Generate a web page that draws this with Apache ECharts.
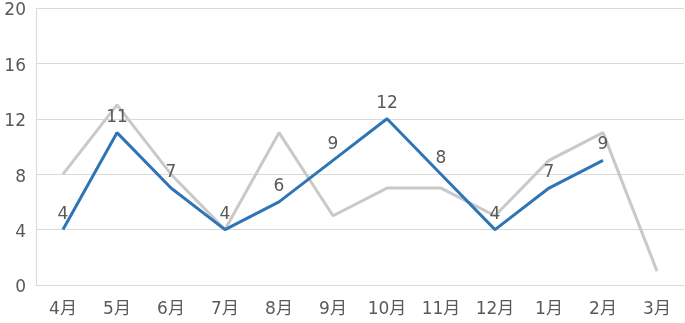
<!DOCTYPE html>
<html>
<head>
<meta charset="utf-8">
<script src="https://cdn.jsdelivr.net/npm/echarts@6/dist/echarts.min.js"></script>
<style>
html,body{margin:0;padding:0;background:#fff;}
#chart{width:685px;height:323px;}
</style>
</head>
<body>
<div id="chart"></div>
<script>
var categories = ['4月','5月','6月','7月','8月','9月','10月','11月','12月','1月','2月','3月'];
var blueValues = [4, 11, 7, 4, 6, 9, 12, 8, 4, 7, 9, null];
var grayValues = [8, 13, 8, 4, 11, 5, 7, 7, 5, 9, 11, 1];
var yTicks = {min: 0, max: 20, interval: 4};

var FONT = '"DejaVu Sans", "Noto Sans CJK JP", sans-serif';
var chart = echarts.init(document.getElementById('chart'), null, {renderer: 'canvas'});
chart.setOption({
  animation: false,
  backgroundColor: '#ffffff',
  grid: {left: 36, right: 1, top: 8, bottom: 38, containLabel: false},
  xAxis: {
    type: 'category',
    data: categories,
    boundaryGap: true,
    axisLine: {show: true, lineStyle: {color: '#d9d9d9', width: 1}},
    axisTick: {show: false},
    axisLabel: {color: '#595959', fontSize: 17, fontFamily: FONT, margin: 16}
  },
  yAxis: {
    type: 'value',
    min: yTicks.min, max: yTicks.max, interval: yTicks.interval,
    axisLine: {show: true, lineStyle: {color: '#d9d9d9', width: 1}},
    axisTick: {show: false},
    splitLine: {show: true, lineStyle: {color: '#d9d9d9', width: 1}},
    axisLabel: {
      color: '#595959', fontSize: 17, fontFamily: FONT, margin: 10,
      formatter: function (v) { return '{n|' + v + '}'; },
      rich: {n: {color: '#595959', fontSize: 17, fontFamily: FONT, padding: [6, 0, 0, 0]}}
    }
  },
  series: [
    {
      type: 'line',
      data: grayValues,
      symbol: 'none',
      lineStyle: {color: '#c9c9c9', width: 3},
      itemStyle: {color: '#c9c9c9'},
      z: 1
    },
    {
      type: 'line',
      data: blueValues,
      symbol: 'circle',
      symbolSize: 0,
      showSymbol: true,
      connectNulls: false,
      lineStyle: {color: '#2e75b6', width: 3},
      itemStyle: {color: '#2e75b6'},
      label: {show: true, position: 'top', distance: 7, color: '#595959', fontSize: 17, fontFamily: FONT},
      z: 2
    }
  ]
});
</script>
</body>
</html>
